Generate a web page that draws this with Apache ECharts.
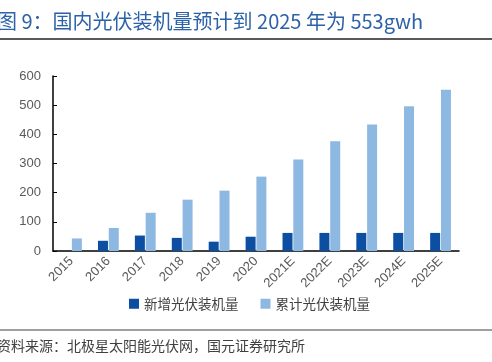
<!DOCTYPE html>
<html><head><meta charset="utf-8">
<script src="https://cdn.jsdelivr.net/npm/echarts@6/dist/echarts.min.js"></script>
<style>html,body{margin:0;padding:0;background:#fff}#c{width:492px;height:362px}</style>
</head><body><div id="c"></div>
<script>
var categories = ['2015','2016','2017','2018','2019','2020','2021E','2022E','2023E','2024E','2025E'];
var newInstalled = [0, 35, 53, 45, 32, 49, 62, 62, 62, 62, 62];
var cumInstalled = [43, 79, 131, 176, 207, 255, 314, 376, 434, 496, 553];
var seriesNames = ['新增光伏装机量', '累计光伏装机量'];
var yTicks = {min: 0, max: 600, interval: 100};
var titleText = '图 9：国内光伏装机量预计到 2025 年为 553gwh';
var sourceText = '资料来源：北极星太阳能光伏网，国元证券研究所';

var chart = echarts.init(document.getElementById('c'), null, {renderer: 'canvas'});
var font = '"Noto Sans CJK SC", "Liberation Sans", sans-serif';
chart.setOption({
  animation: false,
  textStyle: {fontFamily: font},
  grid: {left: 53, top: 76, right: 33, bottom: 111, containLabel: false},
  graphic: [
    {type: 'text', left: -3, top: 11, style: {text: titleText, fill: '#2d62a8', font: '20px ' + font}},
    {type: 'line', shape: {x1: 0, y1: 39, x2: 492, y2: 39}, style: {stroke: '#222', lineWidth: 1.5}},
    {type: 'line', shape: {x1: 0, y1: 330, x2: 492, y2: 330}, style: {stroke: '#808080', lineWidth: 1.5}},
    {type: 'text', left: -3, top: 339, style: {text: sourceText, fill: '#404040', font: '14px ' + font}}
  ],
  legend: {
    left: 124, top: 292, itemWidth: 10, itemHeight: 10, itemGap: 22,
    icon: 'rect',
    textStyle: {fontSize: 13.5, color: '#404040', fontFamily: font},
    data: seriesNames
  },
  xAxis: {
    type: 'category', data: categories,
    axisLine: {lineStyle: {color: '#000', width: 1.5}},
    axisTick: {inside: true, length: 4, lineStyle: {color: '#000'}},
    axisLabel: {rotate: 45, fontSize: 13, color: '#595959', margin: 8, fontFamily: '"Liberation Sans", Arial, sans-serif'}
  },
  yAxis: {
    type: 'value', min: yTicks.min, max: yTicks.max, interval: yTicks.interval,
    axisLine: {show: true, lineStyle: {color: '#000', width: 1.5}},
    axisTick: {show: true, inside: true, length: 4, lineStyle: {color: '#000'}},
    splitLine: {show: false},
    axisLabel: {fontSize: 13, color: '#595959', margin: 12, fontFamily: '"Liberation Sans", Arial, sans-serif'}
  },
  series: [
    {name: seriesNames[0], type: 'bar', data: newInstalled, barWidth: 10, barGap: '8%',
     itemStyle: {color: '#0b4ea2'}},
    {name: seriesNames[1], type: 'bar', data: cumInstalled, barWidth: 10,
     itemStyle: {color: '#8db8e2'}}
  ]
});
</script></body></html>
